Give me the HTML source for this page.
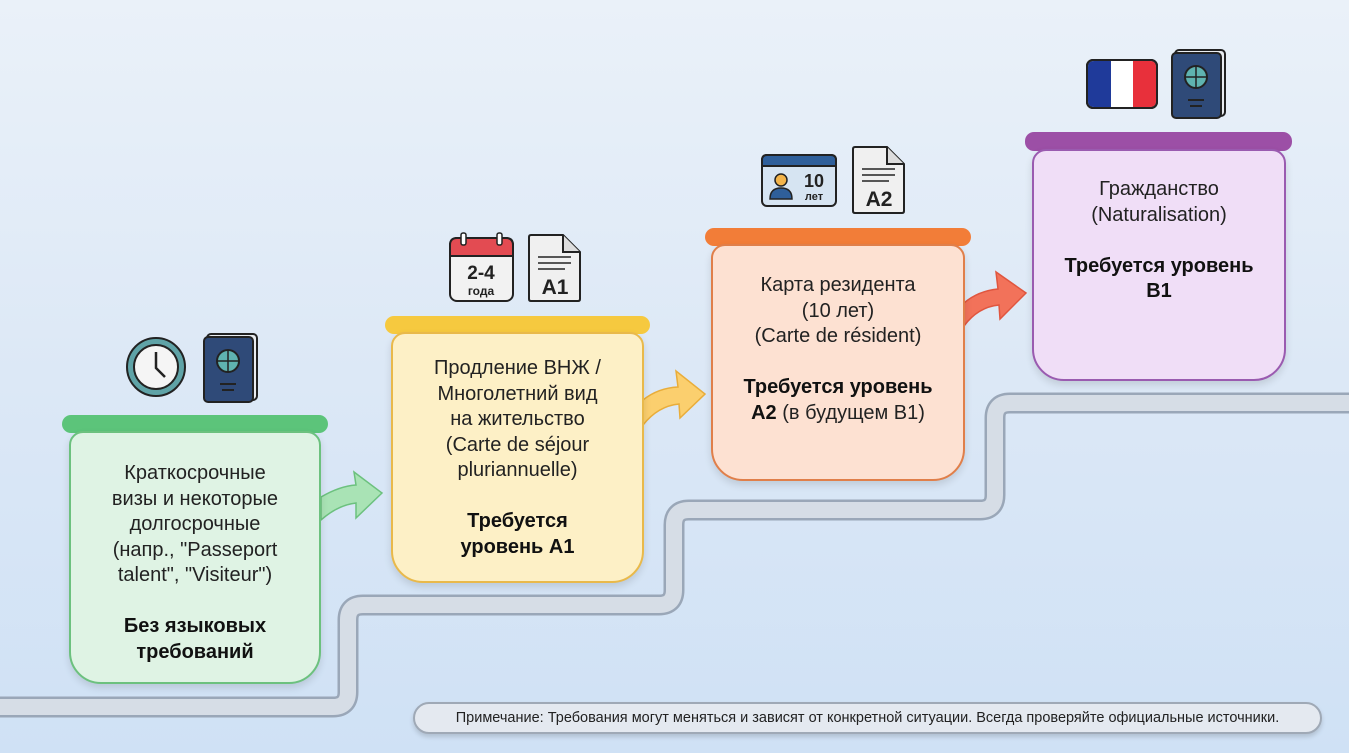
<!DOCTYPE html>
<html><head><meta charset="utf-8"><style>
body{margin:0;width:1349px;height:753px;overflow:hidden;background:linear-gradient(180deg,#eaf1f9 0%,#dce8f6 50%,#cfe1f5 100%);font-family:"Liberation Sans","DejaVu Sans",sans-serif;position:relative}
.cap{position:absolute;height:18px;border-radius:9px}
.box{position:absolute;border:2px solid;border-radius:14px 14px 32px 32px;box-sizing:border-box;text-align:center;font-size:20px;line-height:25.5px;color:#222;box-shadow:0 4px 8px rgba(0,0,0,.12)}
b{color:#111}
.note{position:absolute;left:413px;top:702px;width:909px;height:32px;border:2px solid #9fa9b6;border-radius:16px;background:#e4e9f0;box-sizing:border-box;font-size:14.5px;line-height:28px;text-align:center;color:#222;box-shadow:0 3px 5px rgba(0,0,0,.15)}
svg{position:absolute;left:0;top:0}
</style></head><body>
<svg width="1349" height="753">
<g fill="none" stroke-linejoin="round">
<path d="M0 707 H333 Q348 707 348 692 V620 Q348 605 363 605 H659 Q674 605 674 590 V525 Q674 510 689 510 H980 Q995 510 995 495 V418 Q995 403 1010 403 H1349" stroke="#9aa7b8" stroke-width="21"/>
<path d="M0 707 H333 Q348 707 348 692 V620 Q348 605 363 605 H659 Q674 605 674 590 V525 Q674 510 689 510 H980 Q995 510 995 495 V418 Q995 403 1010 403 H1349" stroke="#d6dde6" stroke-width="16"/>
</g>
<!-- arrows -->
<path d="M321 497 Q340 486 356 485 L354 472 L382 493 L356 518 L356 503 Q338 505 321 520 Z" fill="#a9e3b5" stroke="#6cc17e" stroke-width="1.5"/>
<path d="M643 400 Q658 388 678 387 L676 371 L705 394 L680 418 L679 404 Q658 406 643 425 Z" fill="#fbcf6e" stroke="#e9ad3a" stroke-width="1.5"/>
<path d="M964 303 Q978 291 998 289 L996 272 L1026 293 L1000 319 L999 305 Q978 307 964 326 Z" fill="#f2725a" stroke="#e0563f" stroke-width="1.5"/>
<!-- clock -->
<circle cx="156" cy="367" r="29" fill="#5fa3a7" stroke="#222" stroke-width="2"/>
<circle cx="156" cy="367" r="22" fill="#f5f5f5" stroke="#222" stroke-width="2"/>
<path d="M156 352 V368 L165 377" stroke="#222" stroke-width="2.5" fill="none"/>
<!-- passports -->
<g id="pp"><rect x="207" y="334" width="50" height="66" rx="4" fill="#e9ecf0" stroke="#222" stroke-width="2"/><rect x="204" y="337" width="49" height="65" rx="4" fill="#2f4a78" stroke="#222" stroke-width="2"/><circle cx="228" cy="361" r="11" fill="#5fb3b0" stroke="#222" stroke-width="2"/><path d="M217 361 H239 M228 350 V372" stroke="#222" stroke-width="1.5"/><path d="M220 384 H236 M222 390 H234" stroke="#222" stroke-width="2"/></g>
<use href="#pp" x="968" y="-284"/>
<!-- calendar -->
<rect x="450" y="238" width="63" height="63" rx="7" fill="#f2f2f2" stroke="#222" stroke-width="2"/>
<path d="M450 256 V245 Q450 238 457 238 H506 Q513 238 513 245 V256 Z" fill="#e34b52" stroke="#222" stroke-width="2"/>
<rect x="461" y="233" width="5" height="12" rx="2" fill="#fff" stroke="#222" stroke-width="1.5"/><rect x="497" y="233" width="5" height="12" rx="2" fill="#fff" stroke="#222" stroke-width="1.5"/>
<text x="481" y="279" font-size="19" font-weight="bold" text-anchor="middle" fill="#222">2-4</text>
<text x="481" y="295" font-size="12" font-weight="bold" text-anchor="middle" fill="#222">года</text>
<!-- docs -->
<g id="doc"><path d="M531 235 H563 L580 252 V299 Q580 301 578 301 H531 Q529 301 529 299 V237 Q529 235 531 235 Z" fill="#f0f0f0" stroke="#222" stroke-width="2"/><path d="M563 235 V252 H580" fill="#ddd" stroke="#222" stroke-width="2"/><path d="M538 257 H571 M538 263 H571 M538 269 H565" stroke="#222" stroke-width="1.5"/></g>
<text x="555" y="294" font-size="21" font-weight="bold" text-anchor="middle" fill="#222">A1</text>
<use href="#doc" x="324" y="-88"/>
<text x="879" y="206" font-size="21" font-weight="bold" text-anchor="middle" fill="#222">A2</text>
<!-- id card -->
<rect x="762" y="155" width="74" height="51" rx="5" fill="#d6e4f2" stroke="#222" stroke-width="2"/>
<path d="M762 166 V160 Q762 155 767 155 H831 Q836 155 836 160 V166 Z" fill="#2f5f9a" stroke="#222" stroke-width="2"/>
<circle cx="781" cy="180" r="6" fill="#f3b44b" stroke="#222" stroke-width="1.5"/>
<path d="M770 199 Q770 188 781 188 Q792 188 792 199 Z" fill="#2f5f9a" stroke="#222" stroke-width="1.5"/>
<text x="814" y="187" font-size="18" font-weight="bold" text-anchor="middle" fill="#222">10</text>
<text x="814" y="200" font-size="11" font-weight="bold" text-anchor="middle" fill="#222">лет</text>
<!-- flag -->
<rect x="1087" y="60" width="70" height="48" rx="6" fill="#fff" stroke="#222" stroke-width="2"/>
<path d="M1111 61 H1094 Q1088 61 1088 67 V101 Q1088 107 1094 107 H1111 Z" fill="#1f3a9a"/>
<path d="M1133 61 H1150 Q1156 61 1156 67 V101 Q1156 107 1150 107 H1133 Z" fill="#e8303b"/>
<rect x="1087" y="60" width="70" height="48" rx="6" fill="none" stroke="#222" stroke-width="2"/>
</svg>

<div class="cap" style="left:62px;top:415px;width:266px;background:#5cc47a"></div>
<div class="box" style="left:69px;top:431px;width:252px;height:253px;background:#dff3e4;border-color:#6cc17e;padding-top:28px">Краткосрочные<br>визы и некоторые<br>долгосрочные<br>(напр., "Passeport<br>talent", "Visiteur")<br><br><b>Без языковых<br>требований</b></div>

<div class="cap" style="left:385px;top:316px;width:265px;background:#f6c93f"></div>
<div class="box" style="left:391px;top:332px;width:253px;height:251px;background:#fdf0c6;border-color:#e9b94a;padding-top:22px">Продление ВНЖ /<br>Многолетний вид<br>на жительство<br>(Carte de séjour<br>pluriannuelle)<br><br><b>Требуется<br>уровень A1</b></div>

<div class="cap" style="left:705px;top:228px;width:266px;background:#f27d38"></div>
<div class="box" style="left:711px;top:244px;width:254px;height:237px;background:#fde1d2;border-color:#e07f4a;padding-top:27px">Карта резидента<br>(10 лет)<br>(Carte de résident)<br><br><b>Требуется уровень<br>A2</b> (в будущем B1)</div>

<div class="cap" style="left:1025px;top:132px;width:267px;height:19px;background:#9c4fa6"></div>
<div class="box" style="left:1032px;top:149px;width:254px;height:232px;background:#f0def7;border-color:#9a5bb0;padding-top:26px">Гражданство<br>(Naturalisation)<br><br><b>Требуется уровень<br>B1</b></div>

<div class="note">Примечание: Требования могут меняться и зависят от конкретной ситуации. Всегда проверяйте официальные источники.</div>
</body></html>
